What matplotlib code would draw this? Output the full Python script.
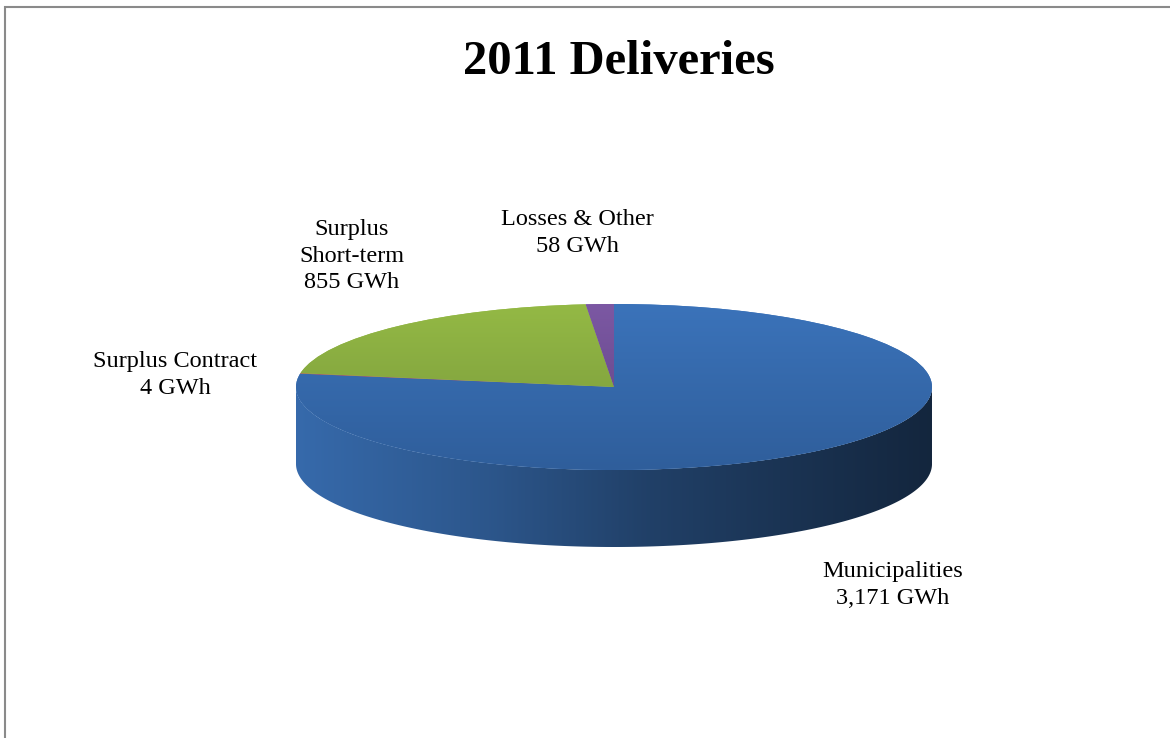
import numpy as np
import matplotlib.pyplot as plt
from matplotlib.colors import LinearSegmentedColormap, to_rgb
from matplotlib.patches import Polygon, Rectangle

# 2011 deliveries by customer group (GWh)
categories = ['Municipalities', 'Surplus Contract', 'Surplus Short-term', 'Losses & Other']
label_names = ['Municipalities', 'Surplus Contract', 'Surplus\nShort-term', 'Losses & Other']
deliveries_gwh = [3171, 4, 855, 58]

colors_back = ['#3b73ba', '#c0504d', '#94b945', '#7c58a3']
colors_front = ['#2f5e9b', '#a3423f', '#76963a', '#5e4282']

W, H = 1170, 738
fig = plt.figure(figsize=(W / 100, H / 100), dpi=100)


def fx(px):
    return px / W


def fy(py):
    return 1 - py / H


# pie disc geometry, in pixels
cx, cy, rx, ry, depth = 614, 387, 318, 83, 77
d = depth / ry

ax = fig.add_axes([fx(cx - rx), fy(cy + ry + depth), 2 * rx / W, (2 * ry + depth) / H])
wedges, _ = ax.pie(deliveries_gwh, startangle=90, counterclock=False,
                   colors=colors_back, wedgeprops=dict(linewidth=0))
ax.set_aspect('auto')
ax.axis('off')

grad = np.linspace(0, 1, 256).reshape(-1, 1)
xgrad = np.linspace(0, 1, 256).reshape(1, -1)

for i, w in enumerate(wedges):
    # top face: lighter at the back, darker towards the front
    cmap = LinearSegmentedColormap.from_list(f'top{i}', [colors_back[i], colors_front[i]])
    im = ax.imshow(grad, cmap=cmap, extent=[-1, 1, -1, 1], aspect='auto',
                   origin='upper', zorder=w.get_zorder() + 0.1)
    im.set_clip_path(w)

    # side wall for the part of the slice facing the viewer
    t = np.radians(np.linspace(w.theta1, w.theta2, 600))
    front = np.sin(t) <= 0
    if front.sum() < 2:
        continue
    tf = t[front]
    top = np.column_stack([np.cos(tf), np.sin(tf)])
    bottom = np.column_stack([np.cos(tf[::-1]), np.sin(tf[::-1]) - d])
    side = Polygon(np.vstack([top, bottom]), closed=True, facecolor='none',
                   edgecolor='none', zorder=0.5)
    ax.add_patch(side)
    base = np.array(to_rgb(colors_back[i]))
    stops = [(0.0, base * 0.92), (0.3, base * 0.75), (0.55, base * 0.56), (1.0, base * 0.33)]
    side_cmap = LinearSegmentedColormap.from_list(f'side{i}', stops)
    sim = ax.imshow(xgrad, cmap=side_cmap, extent=[-1, 1, -1 - d, 0.2],
                    aspect='auto', zorder=0.6)
    sim.set_clip_path(side)

ax.set_xlim(-1, 1)
ax.set_ylim(-1 - d, 1)

# chart frame (left and top edges visible)
fig.patches.append(Rectangle((fx(5), -0.05), 1.0, fy(7) + 0.05,
                             transform=fig.transFigure, fill=False,
                             edgecolor='#8a8a8a', linewidth=1.5))

fig.text(fx(619), fy(62), '2011 Deliveries', ha='center', va='center',
         fontsize=35, fontweight='bold', family='Liberation Serif')

label_pos = [(893, 585), (175, 375), (352, 256), (577, 233)]
for name, val, (lx, ly) in zip(label_names, deliveries_gwh, label_pos):
    fig.text(fx(lx), fy(ly), f'{name}\n{val:,} GWh', ha='center', va='center',
             fontsize=17.5, family='Liberation Serif', linespacing=1.37)

fig.savefig('out.png', dpi=100, facecolor='white')
